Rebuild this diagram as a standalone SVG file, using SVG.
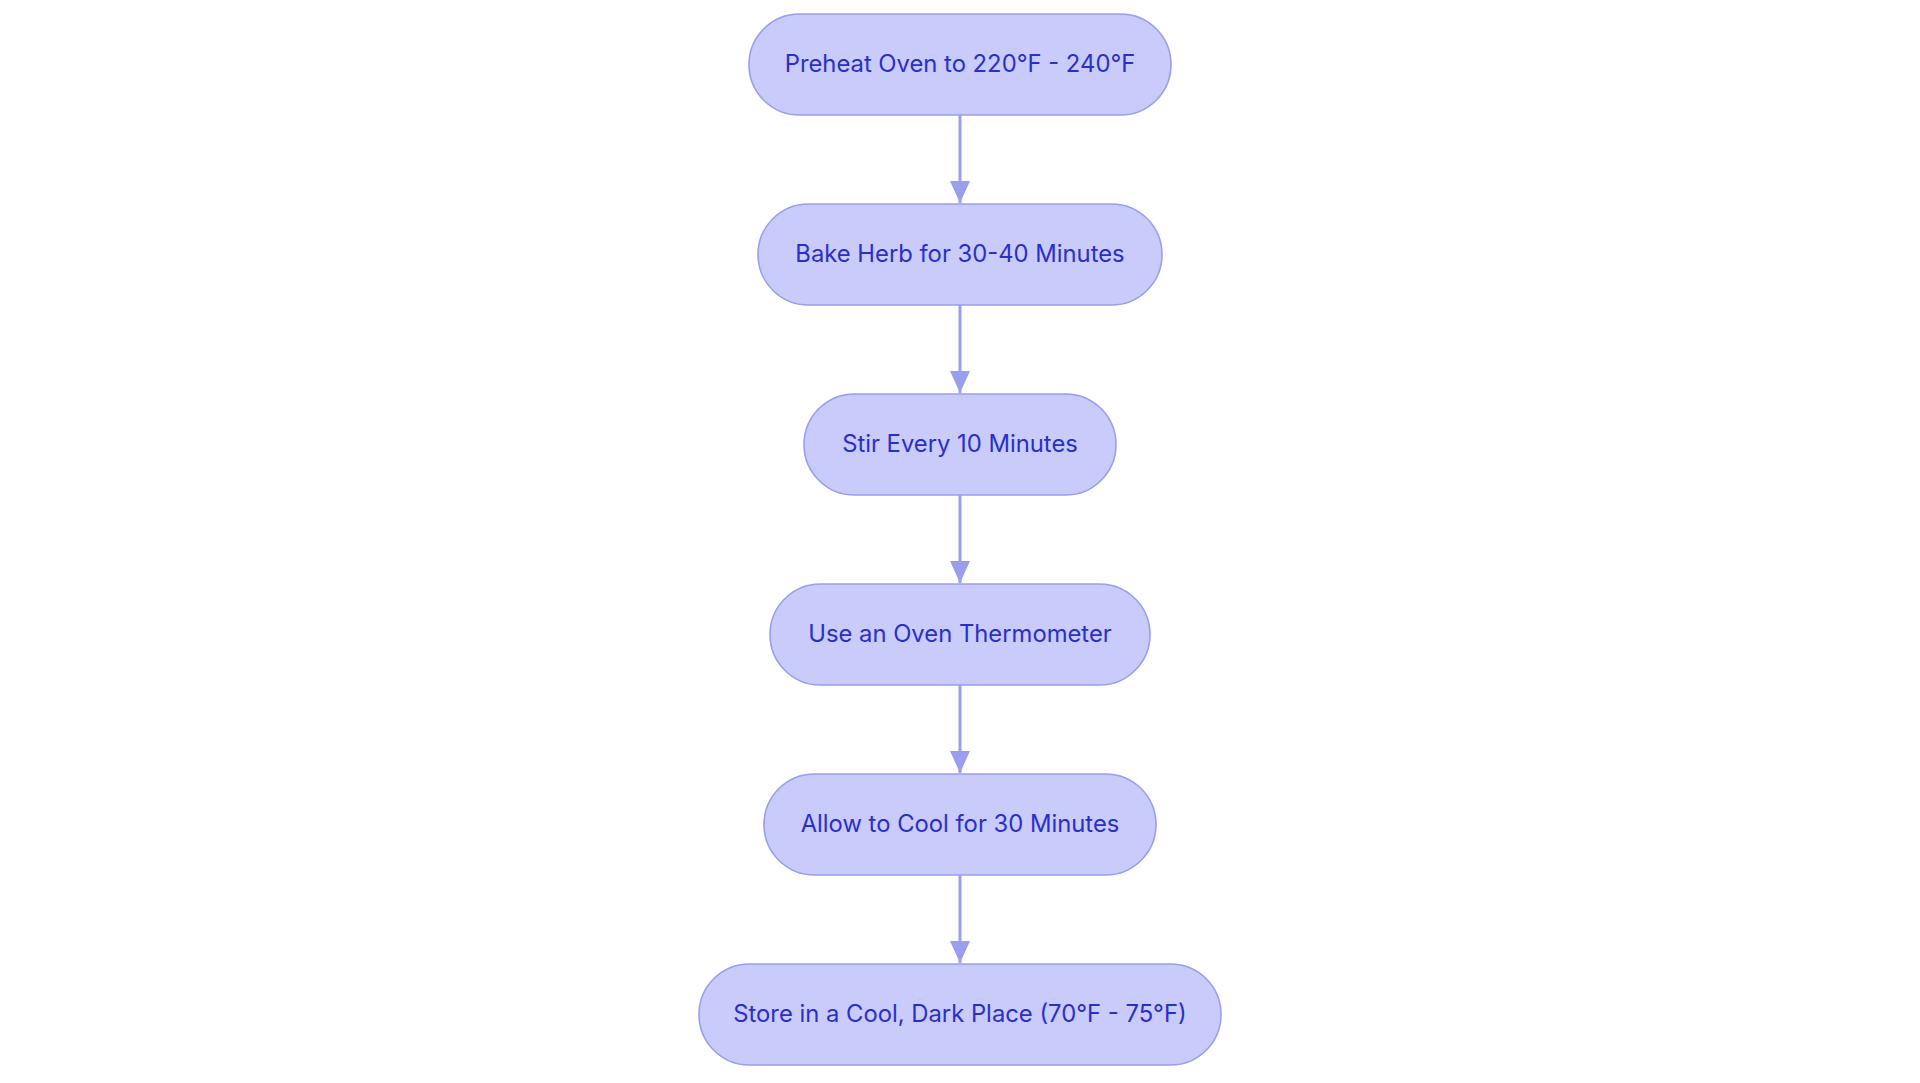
<svg xmlns="http://www.w3.org/2000/svg" width="1920" height="1083" viewBox="0 0 1920 1083">
<style>
.node rect{fill:#c9cbfb;stroke:#9a9df0;stroke-width:1.6}
.node text{font-family:Inter,"Noto Sans","Liberation Sans",sans-serif;font-size:23.8px;font-weight:400;fill:#2b2fc9;text-anchor:middle;dominant-baseline:central}
.edge{stroke:#9a9eee;stroke-width:3;fill:none}
</style>
<defs>
<marker id="arr" viewBox="0 0 22 20" refX="22" refY="10" markerWidth="22" markerHeight="20" markerUnits="userSpaceOnUse" orient="auto">
<path d="M0,0 L22,10 L0,20 Z" fill="#9a9eee"/>
</marker>
</defs>
<rect width="1920" height="1083" fill="#ffffff"/>
<g id="connectors">
<path class="edge" d="M960,115 V203" marker-end="url(#arr)"/>
<path class="edge" d="M960,305 V393" marker-end="url(#arr)"/>
<path class="edge" d="M960,495 V583" marker-end="url(#arr)"/>
<path class="edge" d="M960,685 V773" marker-end="url(#arr)"/>
<path class="edge" d="M960,875 V963" marker-end="url(#arr)"/>
</g>
<g id="n1" class="node"><rect x="749" y="14" width="422" height="101" rx="50.5"/><text x="960" y="63.5">Preheat Oven to 220°F - 240°F</text></g>
<g id="n2" class="node"><rect x="758" y="204" width="404" height="101" rx="50.5"/><text x="960" y="253.5">Bake Herb for 30-40 Minutes</text></g>
<g id="n3" class="node"><rect x="804" y="394" width="312" height="101" rx="50.5"/><text x="960" y="443.5">Stir Every 10 Minutes</text></g>
<g id="n4" class="node"><rect x="770" y="584" width="380" height="101" rx="50.5"/><text x="960" y="633.5">Use an Oven Thermometer</text></g>
<g id="n5" class="node"><rect x="764" y="774" width="392" height="101" rx="50.5"/><text x="960" y="823.5">Allow to Cool for 30 Minutes</text></g>
<g id="n6" class="node"><rect x="699" y="964" width="522" height="101" rx="50.5"/><text x="960" y="1013.5">Store in a Cool, Dark Place (70°F - 75°F)</text></g>
</svg>
